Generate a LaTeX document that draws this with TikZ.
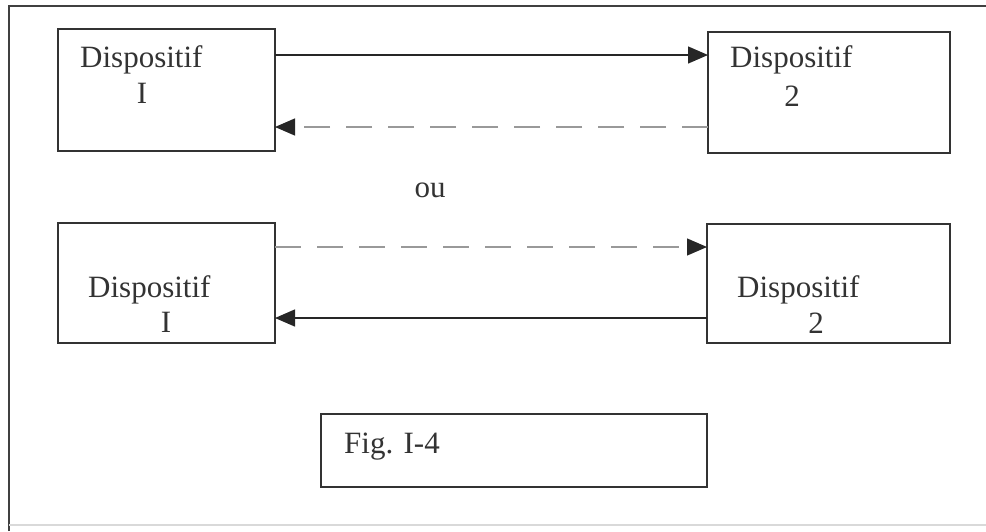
\documentclass[tikz,border=0pt]{standalone}
\usepackage{fontspec}
\setmainfont{Liberation Serif}
\usetikzlibrary{arrows.meta}
\tikzset{
  devbox/.style={draw=black!80, line width=1.6pt, minimum width=#1, inner sep=0pt, outer sep=0pt},
  lbl/.style={font=\fontsize{31}{36}\selectfont, text=black!80, inner sep=0pt},
  solidarrow/.style={draw=black!85, line width=1.4pt, -{Triangle[length=20pt,width=17pt]}},
  dotarrow/.style={draw=black!40, line width=1.3pt, dash pattern=on 26pt off 16pt, -{Triangle[length=20pt,width=17pt,black!85]}},
}
\begin{document}
\begin{tikzpicture}[x=1pt,y=-1pt]
\useasboundingbox (0,0) rectangle (986,531);
% frame
\draw[black!75, line width=2pt] (9,531) -- (9,6) -- (986,6);
\draw[black!15, line width=1.5pt] (9,525) -- (986,525);
% boxes
\node[devbox=217pt, minimum height=122pt] (b1) at (166.5,90) {};
\node[devbox=242pt, minimum height=121pt] (b2) at (829,92.5) {};
\node[devbox=217pt, minimum height=120pt] (b3) at (166.5,283) {};
\node[devbox=243pt, minimum height=119pt] (b4) at (828.5,283.5) {};
\node[devbox=386pt, minimum height=73pt] (fig) at (514,450.5) {};
% texts
\node[lbl, anchor=base west] (t1) at (80,67) {Dispositif};
\node[lbl, anchor=base] (n1) at (142,103) {I};
\node[lbl, anchor=base west] (t2) at (730,67) {Dispositif};
\node[lbl, anchor=base] (n2) at (792,106) {2};
\node[lbl, anchor=base west] (t3) at (88,297) {Dispositif};
\node[lbl, anchor=base] (n3) at (166,332) {I};
\node[lbl, anchor=base west] (t4) at (737,297) {Dispositif};
\node[lbl, anchor=base] (n4) at (816,333) {2};
\node[lbl, anchor=base] (ou) at (430,197) {ou};
\node[lbl, anchor=base west] (ft) at (344,453) {Fig. I-4};
% connectors
\draw[solidarrow] ([yshift=-26pt]b1.north east) -- ([yshift=-23pt]b2.north west);
\draw[dotarrow] ([yshift=-95pt]b2.north west) -- ([yshift=-98pt]b1.north east);
\draw[dotarrow] ([yshift=-24pt]b3.north east) -- ([yshift=-23pt]b4.north west);
\draw[solidarrow] ([yshift=-94pt]b4.north west) -- ([yshift=-95pt]b3.north east);
\end{tikzpicture}
\end{document}
